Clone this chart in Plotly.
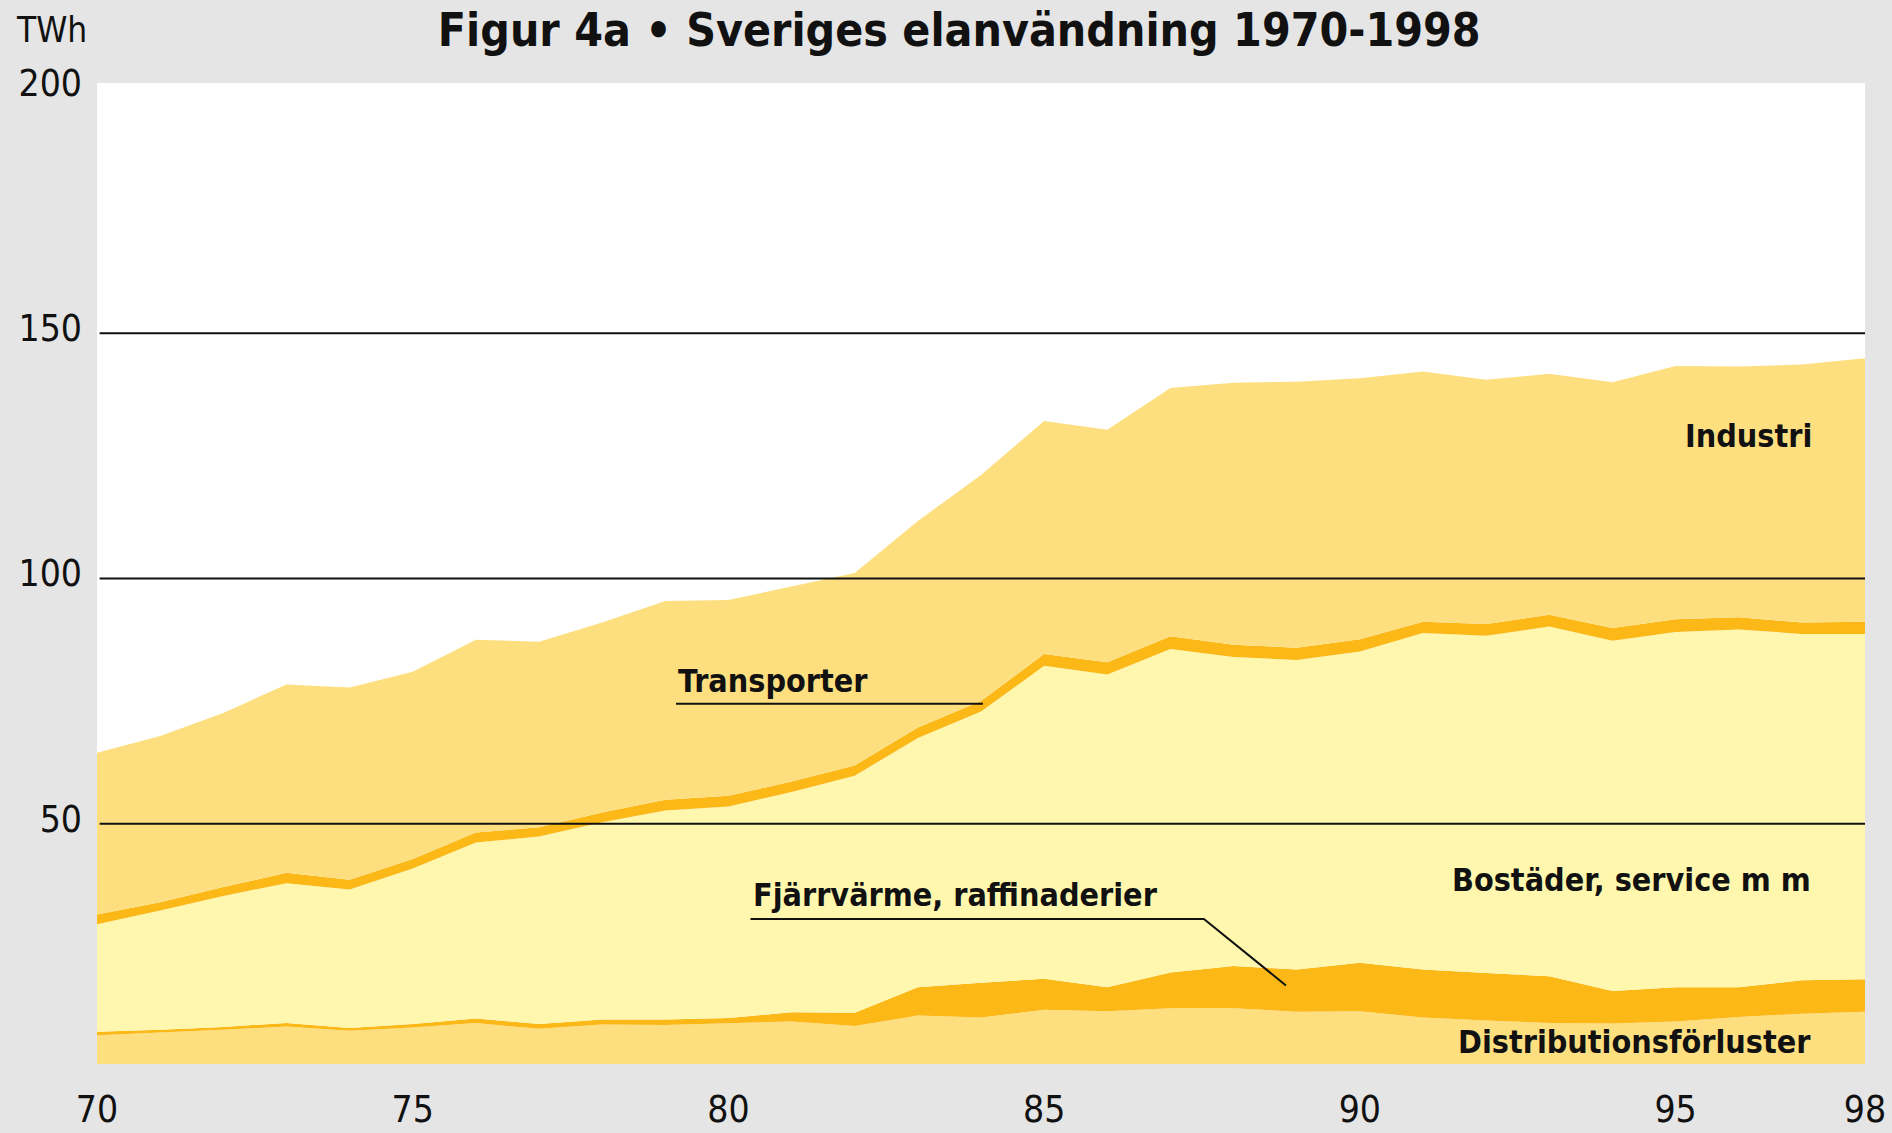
import plotly.graph_objects as go

years = list(range(1970, 1999))
distribution = [6.9, 7.4, 8.0, 8.7, 7.8, 8.5, 9.4, 8.2, 9.1, 9.0, 9.3, 9.7, 8.8, 10.9, 10.5,
                12.1, 11.8, 12.4, 12.4, 11.7, 11.8, 10.5, 9.9, 9.4, 9.3, 9.7, 10.6, 11.3, 11.7]
fjarrvarme = [0.7, 0.6, 0.6, 0.7, 0.6, 0.7, 0.9, 1.0, 1.0, 1.1, 1.1, 1.9, 2.7, 5.8, 7.1,
              6.3, 4.9, 7.3, 8.6, 8.6, 9.9, 9.8, 9.7, 9.5, 6.6, 7.0, 6.1, 6.8, 6.6]
bostader = [21.9, 24.3, 26.7, 28.5, 28.2, 31.7, 35.9, 38.2, 40.2, 42.6, 43.1, 44.9, 48.3, 50.8, 55.3,
            63.8, 63.7, 65.9, 63.0, 63.1, 63.4, 68.6, 68.7, 71.3, 71.4, 72.4, 72.9, 70.6, 70.4]
transporter = [2.0, 1.7, 1.8, 2.1, 2.0, 1.9, 2.0, 1.9, 2.0, 2.2, 2.2, 2.1, 2.1, 2.1, 2.1,
               2.4, 2.5, 2.6, 2.5, 2.5, 2.5, 2.3, 2.4, 2.4, 2.6, 2.6, 2.5, 2.3, 2.5]
industri = [33.0, 33.9, 35.5, 38.4, 39.2, 38.2, 39.3, 37.8, 38.7, 40.5, 39.9, 39.8, 39.2, 42.1, 46.1,
            47.5, 47.4, 50.6, 53.4, 54.2, 53.2, 51.0, 49.8, 49.1, 50.1, 51.6, 51.1, 52.6, 53.7]

x_tickvals = [1970, 1975, 1980, 1985, 1990, 1995, 1998]
x_ticktext = ["70", "75", "80", "85", "90", "95", "98"]
y_tickvals = [50, 100, 150, 200]
y_ticktext = ["50", "100", "150", "200"]
grid_values = [50, 100, 150]

LIGHT = "#FDDF80"
PALE = "#FFF7AE"
DARK = "#FBB817"
GRAY = "#E5E5E5"
FONT = "DejaVu Sans Condensed, DejaVu Sans, sans-serif"

series = [
    ("Distributionsförluster", distribution, LIGHT),
    ("Fjärrvärme, raffinaderier", fjarrvarme, DARK),
    ("Bostäder, service m m", bostader, PALE),
    ("Transporter", transporter, DARK),
    ("Industri", industri, LIGHT),
]

fig = go.Figure()
for name, vals, col in series:
    fig.add_trace(go.Scatter(
        x=years, y=vals, name=name, mode="lines", stackgroup="one",
        line=dict(width=0, color=col), fillcolor=col, hoverinfo="x+y+name",
    ))

shapes = []
for g in grid_values:
    shapes.append(dict(type="line", xref="paper", yref="y", x0=0.0015, x1=1, y0=g, y1=g,
                       line=dict(color="#111111", width=2), layer="above"))
# leader lines
shapes.append(dict(type="line", xref="x", yref="y", x0=1979.17, x1=1984.03, y0=74.45, y1=74.45,
                   line=dict(color="#111111", width=2), layer="above"))
shapes.append(dict(type="path", xref="x", yref="y",
                   path="M 1980.35 30.58 L 1987.53 30.58 L 1988.83 17.05",
                   line=dict(color="#111111", width=2), layer="above"))

lab_font = dict(family=FONT, size=32, color="#111111", weight="bold")
annotations = [
    dict(text="Industri", x=1997.2, y=129.0, xanchor="right", yanchor="middle"),
    dict(text="Transporter", x=1979.17, y=79.1, xanchor="left", yanchor="middle"),
    dict(text="Bostäder, service m m", x=1997.18, y=38.6, xanchor="right", yanchor="middle"),
    dict(text="Fjärrvärme, raffinaderier", x=1980.35, y=35.5, xanchor="left", yanchor="middle"),
    dict(text="Distributionsförluster", x=1997.18, y=5.6, xanchor="right", yanchor="middle"),
]
for a in annotations:
    a.update(xref="x", yref="y", showarrow=False, font=lab_font)
annotations.append(dict(text="TWh", xref="paper", yref="paper", x=-0.0469, y=1.054,
                        xanchor="left", yanchor="middle", showarrow=False,
                        font=dict(family=FONT, size=35, color="#111111")))

fig.update_layout(
    width=1892, height=1133,
    margin=dict(l=97, r=27, t=83, b=69, pad=0, autoexpand=False),
    paper_bgcolor=GRAY, plot_bgcolor="white",
    showlegend=False,
    title=dict(text="Figur 4a • Sveriges elanvändning 1970-1998",
               x=0.507, xref="container", xanchor="center",
               y=1 - 30 / 1133, yref="container", yanchor="middle", automargin=False,
               font=dict(family=FONT, size=46, color="#111111", weight="bold")),
    xaxis=dict(range=[1970, 1998], tickvals=x_tickvals, ticktext=x_ticktext,
               showgrid=False, zeroline=False, showline=False, ticks="",
               ticklabelstandoff=20, automargin=False,
               tickfont=dict(family=FONT, size=37, color="#111111")),
    yaxis=dict(range=[1.04, 200.98], tickvals=y_tickvals, ticktext=y_ticktext,
               showgrid=False, zeroline=False, showline=False, ticks="",
               ticklabelstandoff=14, ticklabelshift=-5, automargin=False,
               tickfont=dict(family=FONT, size=37, color="#111111")),
    shapes=shapes,
    annotations=annotations,
)

fig.write_html("out.html", config={"displayModeBar": False},
               post_script="document.body.style.margin='0';document.body.style.overflow='hidden';")
